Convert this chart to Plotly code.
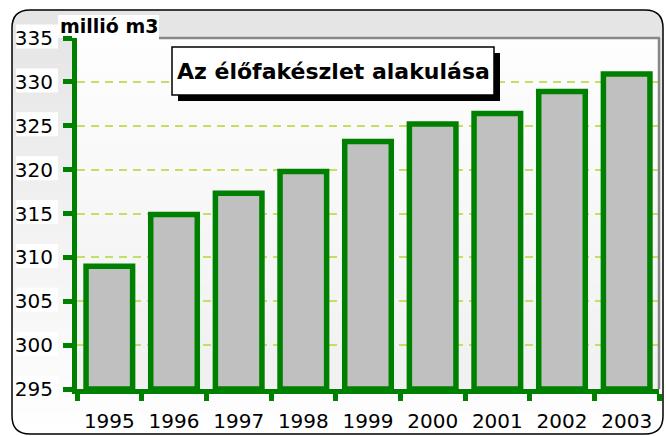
import plotly.graph_objects as go

years = ["1995", "1996", "1997", "1998", "1999", "2000", "2001", "2002", "2003"]
values = [309.0, 314.9, 317.3, 319.8, 323.2, 325.2, 326.4, 328.9, 330.9]
y_ticks = [295, 300, 305, 310, 315, 320, 325, 330, 335]
title_text = "Az élőfakészlet alakulása"
unit_text = "millió m3"

FW, FH = 666, 436
L, R, T, B = 77, 659, 38, 389
PW, PH = R - L, B - T


def X(px):
    return (px - L) / PW


def Y(py):
    return (B - py) / PH


GREEN = "#008000"
FONT = "DejaVu Sans, Arial, sans-serif"

shapes = []

# outer background gradient (gray at top -> white at bottom)
ox0, ox1, oy0, oy1, rad = 12, 663, 10, 434, 18
n = 40
for i in range(n):
    ya = oy0 + (oy1 - oy0) * i / n
    yb = oy0 + (oy1 - oy0) * (i + 1) / n + 0.8
    c = int(229 + (255 - 229) * i / (n - 1))
    shapes.append(dict(type="rect", xref="paper", yref="paper", layer="below",
                       x0=X(ox0), x1=X(ox1), y0=Y(ya), y1=Y(yb),
                       fillcolor=f"rgb({c},{c},{c})", line=dict(width=0)))

# corner masks (white outside rounded border)
def corner(cx, cy, dx, dy):
    p1 = (cx, cy + dy * rad)
    p2 = (cx + dx * rad, cy)
    return (f"M {X(p1[0])},{Y(p1[1])} Q {X(cx)},{Y(cy)} {X(p2[0])},{Y(p2[1])} "
            f"L {X(cx)},{Y(cy)} Z")

for (cx, cy, dx, dy) in [(ox0, oy0, 1, 1), (ox1, oy0, -1, 1), (ox0, oy1, 1, -1), (ox1, oy1, -1, -1)]:
    shapes.append(dict(type="path", xref="paper", yref="paper", layer="below",
                       path=corner(cx, cy, dx, dy), fillcolor="white", line=dict(width=0)))

# plot area gradient (white top -> light gray bottom)
m = 30
for i in range(m):
    ya = T + PH * i / m
    yb = T + PH * (i + 1) / m + 0.8
    c = int(254 - (254 - 241) * i / (m - 1))
    shapes.append(dict(type="rect", xref="paper", yref="paper", layer="below",
                       x0=0, x1=1, y0=Y(ya), y1=Y(min(yb, B)),
                       fillcolor=f"rgb({c},{c},{c})", line=dict(width=0)))

# white boxes behind y tick labels
for v in y_ticks:
    yc = T + (335 - v) / 40 * PH - 1.5
    shapes.append(dict(type="rect", xref="paper", yref="paper", layer="below",
                       x0=X(16), x1=X(58), y0=Y(yc - 12), y1=Y(yc + 12),
                       fillcolor="white", line=dict(width=0)))

# white box behind unit label
shapes.append(dict(type="rect", xref="paper", yref="paper", layer="below",
                   x0=X(58), x1=X(159), y0=Y(15), y1=Y(38),
                   fillcolor="white", line=dict(width=0)))

# rounded outer border
r = rad
pth = (f"M {X(ox0 + r)},{Y(oy0)} L {X(ox1 - r)},{Y(oy0)} Q {X(ox1)},{Y(oy0)} {X(ox1)},{Y(oy0 + r)} "
       f"L {X(ox1)},{Y(oy1 - r)} Q {X(ox1)},{Y(oy1)} {X(ox1 - r)},{Y(oy1)} "
       f"L {X(ox0 + r)},{Y(oy1)} Q {X(ox0)},{Y(oy1)} {X(ox0)},{Y(oy1 - r)} "
       f"L {X(ox0)},{Y(oy0 + r)} Q {X(ox0)},{Y(oy0)} {X(ox0 + r)},{Y(oy0)} Z")
shapes.append(dict(type="path", xref="paper", yref="paper", layer="below",
                   path=pth, line=dict(color="black", width=1.5)))

# gray plot-area border (top and right)
shapes.append(dict(type="line", xref="paper", yref="paper", layer="above",
                   x0=X(159), x1=X(660), y0=1, y1=1, line=dict(color="#888888", width=2.5)))
shapes.append(dict(type="line", xref="paper", yref="paper", layer="above",
                   x0=X(659), x1=X(659), y0=1, y1=0, line=dict(color="#888888", width=2.5)))

# title box with shadow
bx0, bx1, by0, by1 = 172, 494, 47, 95
shapes.append(dict(type="rect", xref="paper", yref="paper", layer="above",
                   x0=X(bx0 + 6), x1=X(bx1 + 6), y0=Y(by0 + 6), y1=Y(by1 + 6),
                   fillcolor="black", line=dict(width=0)))
shapes.append(dict(type="rect", xref="paper", yref="paper", layer="above",
                   x0=X(bx0), x1=X(bx1), y0=Y(by0), y1=Y(by1),
                   fillcolor="white", line=dict(color="black", width=1.5)))

annotations = [
    dict(text=f"<b>{title_text}</b>", xref="paper", yref="paper",
         x=X((bx0 + bx1) / 2), y=Y((by0 + by1) / 2 + 1), xanchor="center", yanchor="middle",
         showarrow=False, font=dict(family=FONT, size=22, color="black")),
    dict(text=f"<b>{unit_text}</b>", xref="paper", yref="paper",
         x=X(58), y=Y(26), xanchor="left", yanchor="middle",
         showarrow=False, font=dict(family=FONT, size=19, color="black")),
]

fig = go.Figure(go.Bar(
    x=years, y=[v - 295 for v in values], base=295,
    marker=dict(color="#c0c0c0", line=dict(color=GREEN, width=5.5)),
    hoverinfo="skip",
))

fig.update_layout(
    width=FW, height=FH,
    margin=dict(l=L, r=FW - R, t=T, b=FH - B, pad=0),
    paper_bgcolor="white", plot_bgcolor="rgba(0,0,0,0)",
    bargap=0.28, showlegend=False,
    shapes=shapes, annotations=annotations,
    font=dict(family=FONT, color="black"),
    xaxis=dict(type="category", showgrid=False, showline=True, linecolor=GREEN, linewidth=5,
               ticks="outside", tickson="boundaries", ticklen=7, tickwidth=5, tickcolor=GREEN,
               tickfont=dict(family=FONT, size=20, color="black"), zeroline=False,
               range=[-0.5, 8.5], ticklabelstandoff=10, automargin=False),
    yaxis=dict(range=[295, 335], tickvals=y_ticks, ticktext=[str(v) for v in y_ticks],
               showgrid=True, gridcolor="#c4e064", gridwidth=2, griddash="8px,6px",
               showline=True, linecolor=GREEN, linewidth=5,
               ticks="outside", ticklen=9, tickwidth=5, tickcolor=GREEN,
               tickfont=dict(family=FONT, size=20, color="black"), zeroline=False,
               ticklabelstandoff=6, automargin=False),
)

fig.write_html("out.html", config={"displayModeBar": False},
               post_script="document.body.style.margin='0px';document.body.style.padding='0px';")
